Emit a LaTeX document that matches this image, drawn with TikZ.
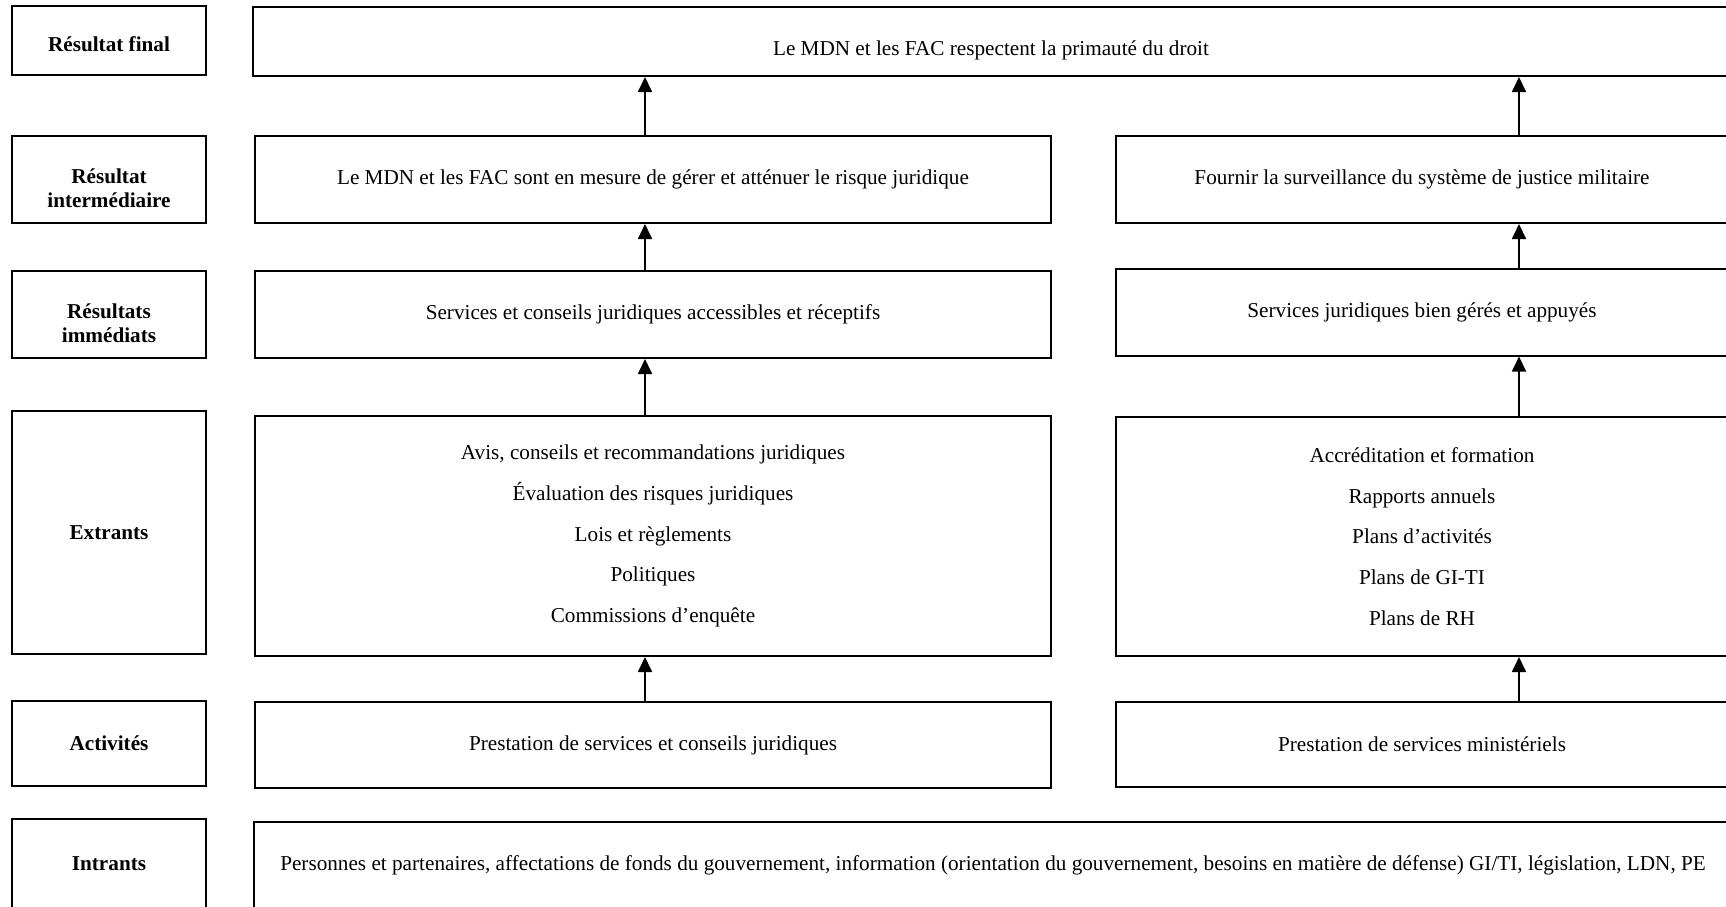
\documentclass[tikz,border=0pt]{standalone}
\usepackage{fontspec}
\setmainfont{Liberation Serif}
\usetikzlibrary{arrows.meta,
                positioning}
\tikzset{lbl/.style={draw, line width=1pt, rectangle, minimum width=97pt, align=center,
    font=\bfseries\fontsize{10.6}{12.1}\selectfont},
    lbltwo/.style={lbl, label={[font=\bfseries\fontsize{10.6}{12.1}\selectfont,
    align=center, yshift=-4.5pt]center:{#1}}},
    box/.style={draw, line width=1pt, rectangle, align=center,
    font=\fontsize{10.6}{20.4}\selectfont},
    flow/.style={-{Triangle[width=7pt,length=7.5pt]}, line width=0.9pt}}

\begin{document}
\begin{tikzpicture}[x=0.5pt, y=-0.5pt]
        \def \lw {398pt}
        \def \rw {306pt}

        \useasboundingbox (0,0) rectangle (1726,906);
        \clip (0,0) rectangle (1726,906);

        % level names
        \node[lbl, minimum height=34.5pt, text height=13.5pt, text depth=2.2pt] (lfinal) at (109,40.5) {Résultat final};
        \node[lbltwo={Résultat\\intermédiaire}, minimum height=43.5pt] (linter) at (109,179.5) {};
        \node[lbltwo={Résultats\\immédiats}, minimum height=43.5pt] (limm) at (109,314.5) {};
        \node[lbl, minimum height=121.5pt] (lext) at (109,532.5) {Extrants};
        \node[lbl, minimum height=42.5pt] (lact) at (109,743.5) {Activités};
        \node[lbl, minimum height=44.5pt] (lin) at (109,863.5) {Intrants};

        % left chain
        \node[box, minimum width=738pt, minimum height=34.5pt, text height=16.5pt, text depth=2.2pt] (final) at (991,41.5)
            {Le MDN et les FAC respectent la primauté du droit};
        \node[box, minimum width=\lw, minimum height=43.5pt] (inter1) at (653,179.5)
            {Le MDN et les FAC sont en mesure de gérer et atténuer le risque juridique};
        \node[box, minimum width=\lw, minimum height=43.5pt] (imm1) at (653,314.5)
            {Services et conseils juridiques accessibles et réceptifs};
        \node[box, minimum width=\lw, minimum height=120pt] (ext1) at (653,536)
            {Avis, conseils et recommandations juridiques\\
             Évaluation des risques juridiques\\
             Lois et règlements\\
             Politiques\\
             Commissions d’enquête};
        \node[box, minimum width=\lw, minimum height=43pt] (act1) at (653,745)
            {Prestation de services et conseils juridiques};

        % right chain
        \node[box, minimum width=\rw, minimum height=43.5pt] (inter2) at (1422,179.5)
            {Fournir la surveillance du système de justice militaire};
        \node[box, minimum width=\rw, minimum height=43.5pt] (imm2) at (1422,312)
            {Services juridiques bien gérés et appuyés};
        \node[box, minimum width=\rw, minimum height=119.5pt] (ext2) at (1422,536.5)
            {Accréditation et formation\\
             Rapports annuels\\
             Plans d’activités\\
             Plans de GI-TI\\
             Plans de RH};
        \node[box, minimum width=\rw, minimum height=42.5pt] (act2) at (1422,744.5)
            {Prestation de services ministériels};

        \node[box, minimum width=739pt, minimum height=43pt] (intr) at (993,865)
            {Personnes et partenaires, affectations de fonds du gouvernement, information (orientation du gouvernement, besoins en matière de défense) GI/TI, législation, LDN, PE};

        \coordinate (lx) at (645,0);
        \coordinate (rx) at (1519,0);

        \foreach \a/\b in {inter1/final, imm1/inter1, ext1/imm1, act1/ext1}
        {
            \draw[flow] (\a.north -| lx) -- (\b.south -| lx);
        }
        \foreach \a/\b in {inter2/final, imm2/inter2, ext2/imm2, act2/ext2}
        {
            \draw[flow] (\a.north -| rx) -- (\b.south -| rx);
        }
    \end{tikzpicture}
\end{document}
